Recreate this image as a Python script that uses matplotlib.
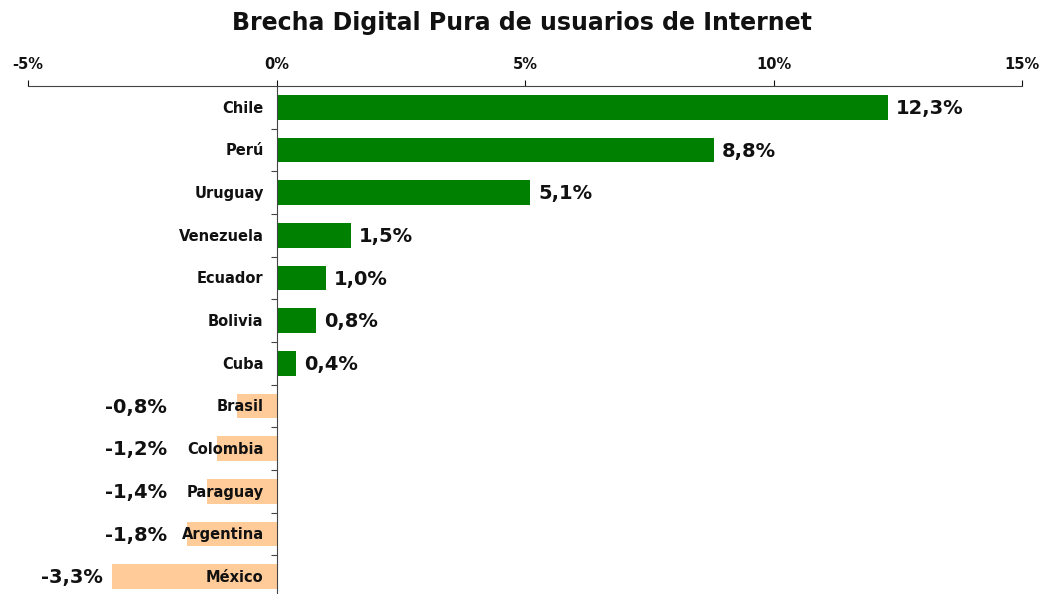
import matplotlib
matplotlib.use("Agg")
import matplotlib.pyplot as plt
import numpy as np

countries = ["Chile", "Perú", "Uruguay", "Venezuela", "Ecuador", "Bolivia", "Cuba",
             "Brasil", "Colombia", "Paraguay", "Argentina", "México"]
gap_pct = [12.3, 8.8, 5.1, 1.5, 1.0, 0.8, 0.4, -0.8, -1.2, -1.4, -1.8, -3.3]
x_ticks = [-5, 0, 5, 10, 15]
x_tick_labels = ["-5%", "0%", "5%", "10%", "15%"]

plt.rcParams["font.family"] = ["DejaVu Sans"]

fig = plt.figure(figsize=(10.44, 5.94), dpi=100, facecolor="white")
ax = fig.add_axes([0.0268, -0.0067, 0.9522, 0.8619])

y = np.arange(len(countries))
colors = ["#008000" if v >= 0 else "#ffcc99" for v in gap_pct]
ax.barh(y, gap_pct, height=0.58, color=colors, zorder=2)

for yi, v, name in zip(y, gap_pct, countries):
    ax.text(-0.26, yi + 0.02, name, ha="right", va="center", fontsize=10.5, fontweight="bold", color="#111111", zorder=4)
    label = f"{v:.1f}%".replace(".", ",")
    if v >= 0:
        ax.text(v + 0.16, yi + 0.03, label, ha="left", va="center", fontsize=14, fontweight="bold", color="#111111", zorder=4)
    else:
        ax.text(min(v - 0.2, -2.2), yi + 0.03, label, ha="right", va="center", fontsize=14, fontweight="bold", color="#111111", zorder=4)

ax.set_xlim(-5, 15)
ax.set_ylim(11.5, -0.5)
ax.xaxis.tick_top()
ax.set_xticks(x_ticks)
ax.set_xticklabels(x_tick_labels, fontsize=10.5, fontweight="bold")
ax.tick_params(axis="x", direction="out", length=4, width=0.8, pad=6, colors="#111111")
ax.set_yticks(np.arange(0.5, len(countries) - 1, 1.0))
ax.set_yticklabels([])
ax.tick_params(axis="y", direction="out", length=4, width=0.8, colors="#444444")
ax.spines["left"].set_position(("data", 0))
ax.spines["left"].set_color("#444444")
ax.spines["top"].set_color("#444444")
ax.spines["right"].set_visible(False)
ax.spines["bottom"].set_visible(False)
ax.set_facecolor("none")

fig.text(0.5, 0.962, "Brecha Digital Pura de usuarios de Internet", ha="center", va="center",
         fontsize=17, fontweight="bold", color="#111111")

fig.savefig("out.png", dpi=100, facecolor="white")
